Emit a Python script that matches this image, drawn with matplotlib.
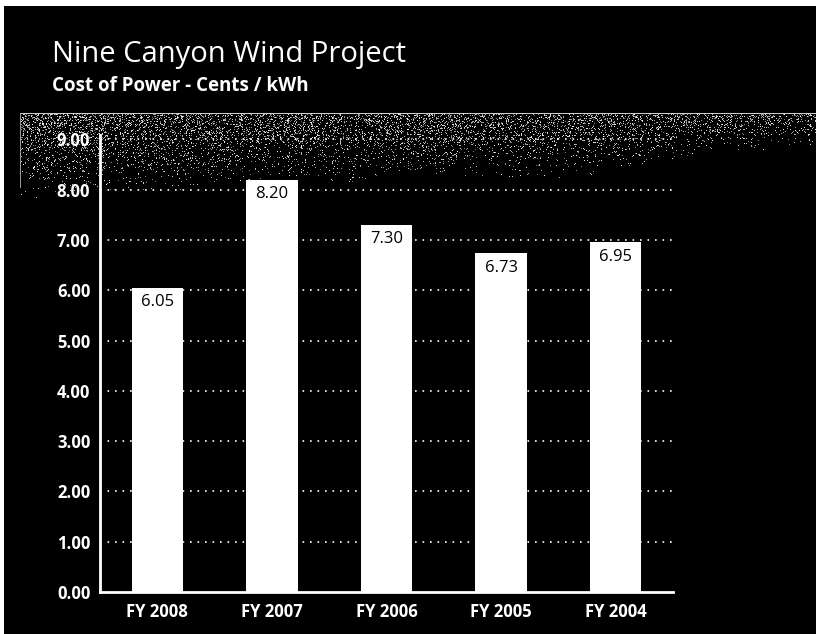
import numpy as np
import matplotlib
matplotlib.use("Agg")
import matplotlib.pyplot as plt

# Cost of power, cents per kWh, by fiscal year
years = ["FY 2008", "FY 2007", "FY 2006", "FY 2005", "FY 2004"]
cost_cents = [6.05, 8.20, 7.30, 6.73, 6.95]
y_ticks = [0, 1, 2, 3, 4, 5, 6, 7, 8, 9]
title = "Nine Canyon Wind Project"
subtitle = "Cost of Power - Cents / kWh"

W, H = 816, 634
DPI = 100
FONT = "Open Sans"

fig = plt.figure(figsize=(W / DPI, H / DPI), dpi=DPI)
fig.patch.set_facecolor("black")

# --- background panel: black slab, thin white margins, grainy grey header band
bg = np.zeros((H, W))
bg[:6, :] = 1.0
bg[:, :4] = 1.0

rng = np.random.default_rng(7)
yy, xx = np.mgrid[0:H, 0:W]
band_top = 113
band_left = 20
depth = np.interp(xx, [band_left, 300, 600, 700, W], [85, 75, 65, 45, 35])
t = (yy - band_top) / depth
fade = np.clip(1 - t, 0, 1) ** 1.3

# slow blotchy variation so the grain is not uniform
coarse = rng.random((H // 16 + 2, W // 16 + 2))
k = np.ones(3) / 3
coarse = np.apply_along_axis(lambda r: np.convolve(r, k, mode="same"), 0, coarse)
coarse = np.apply_along_axis(lambda r: np.convolve(r, k, mode="same"), 1, coarse)
blotch = coarse[yy // 16, xx // 16]
blotch = 0.7 + 0.6 * (blotch - blotch.mean())

density = np.interp(xx, [band_left, 250, 600, W], [0.48, 0.38, 0.36, 0.3]) * fade * blotch
speck = rng.random((H, W)) < density
inside = (yy >= band_top) & (xx >= band_left)
band = np.where(inside & speck, rng.uniform(0.45, 0.95, (H, W)), 0.0)
band[band_top, band_left:] = 0.8
band[band_top:band_top + 75, band_left] = 0.6
bg = np.maximum(bg, band)

ax_bg = fig.add_axes([0, 0, 1, 1], zorder=0)
ax_bg.imshow(bg, cmap="gray", vmin=0, vmax=1, extent=(0, W, H, 0),
             interpolation="nearest", aspect="auto")
ax_bg.set_xlim(0, W)
ax_bg.set_ylim(H, 0)
ax_bg.axis("off")

# --- titles
fig.text(52 / W, 1 - 62 / H, title, color="white", fontsize=21,
         family=FONT, ha="left", va="baseline", zorder=5)
fig.text(52 / W, 1 - 91 / H, subtitle, color="white", fontsize=13.5,
         family=FONT, weight="bold", ha="left", va="baseline", zorder=5)

# --- bar chart
x_left, x_right = 100, 673
y_bottom = 592
px_per_unit = 50.3
y_max = 9.08
y_top = y_bottom - y_max * px_per_unit
ax = fig.add_axes([x_left / W, 1 - y_bottom / H,
                   (x_right - x_left) / W, (y_bottom - y_top) / H], zorder=2)
ax.set_facecolor("none")

x = np.arange(len(years))
bars = ax.bar(x, cost_cents, width=0.45, color="white", edgecolor="none",
              zorder=3)

for b, v in zip(bars, cost_cents):
    ax.annotate(f"{v:.2f}", (b.get_x() + b.get_width() / 2, v),
                xytext=(0, -4.5), textcoords="offset points",
                ha="center", va="top", color="black", fontsize=12,
                family=FONT, zorder=4)

ax.set_xlim(-0.5, len(years) - 0.5)
ax.set_ylim(0, y_max)
ax.set_yticks(y_ticks)
ax.set_yticklabels([f"{v:.2f}" for v in y_ticks])
ax.set_xticks(x)
ax.set_xticklabels(years)

for v in y_ticks[1:]:
    ax.axhline(v, color="white", lw=1.2, ls=(0, (1, 3.5)), zorder=1)

for side in ("top", "right"):
    ax.spines[side].set_visible(False)
for side in ("left", "bottom"):
    ax.spines[side].set_color("white")
    ax.spines[side].set_linewidth(2)

ax.tick_params(axis="both", length=0, colors="white")
ax.tick_params(axis="y", pad=7)
ax.tick_params(axis="x", pad=8)
for lbl in ax.get_yticklabels() + ax.get_xticklabels():
    lbl.set_fontfamily(FONT)
    lbl.set_fontweight("bold")
    lbl.set_fontsize(12)
    lbl.set_color("white")

fig.savefig("out.png", dpi=DPI, facecolor=fig.get_facecolor())
